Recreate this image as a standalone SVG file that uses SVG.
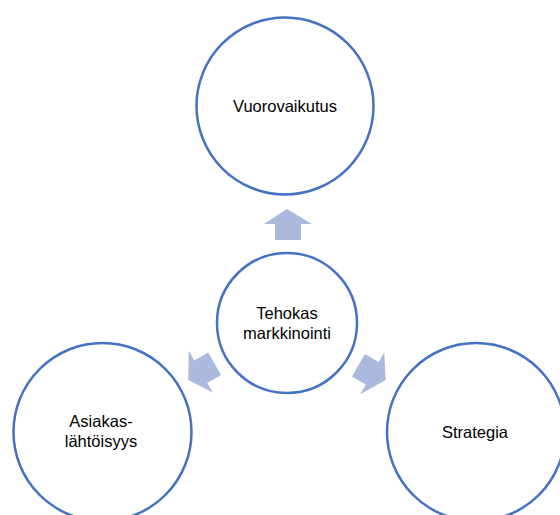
<svg xmlns="http://www.w3.org/2000/svg" width="560" height="515" viewBox="0 0 560 515">
<defs>
<style>
.node circle{fill:#ffffff;stroke:#4472c4;stroke-width:2.5}
.node text{font-family:"Liberation Sans",Arial,sans-serif;font-size:16.5px;fill:#000000;text-anchor:middle}
.arrow{fill:#abb9df}
</style>
<path id="arr" d="M0,-114 L-23,-99 L-12,-99 L-12,-83 L14,-83 L14,-99 L25,-99 Z"/>
</defs>
<rect width="560" height="515" fill="#ffffff"/>
<g id="connectors" transform="translate(287,323)">
<use href="#arr" class="arrow"/>
<use href="#arr" class="arrow" transform="rotate(-120)"/>
<use href="#arr" class="arrow" transform="rotate(120)"/>
</g>
<g id="n-top" class="node">
<circle cx="285" cy="106" r="88.5"/>
<text x="285" y="112">Vuorovaikutus</text>
</g>
<g id="n-center" class="node">
<circle cx="287" cy="323" r="70"/>
<text x="287" y="319">Tehokas</text>
<text x="287" y="339">markkinointi</text>
</g>
<g id="n-left" class="node">
<circle cx="102.5" cy="432" r="89"/>
<text x="101" y="427">Asiakas-</text>
<text x="101" y="447">lähtöisyys</text>
</g>
<g id="n-right" class="node">
<circle cx="476" cy="432" r="89"/>
<text x="475" y="438">Strategia</text>
</g>
</svg>
